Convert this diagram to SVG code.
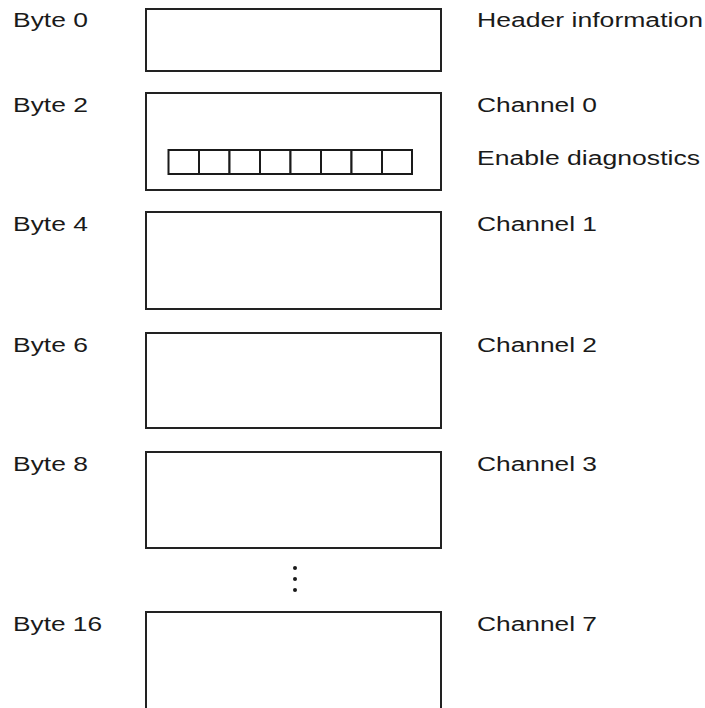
<svg xmlns="http://www.w3.org/2000/svg" width="705" height="708" viewBox="0 0 705 708">
<style>
.box{fill:#fff;stroke:#222;stroke-width:2}
.cell{fill:#fff;stroke:#1a1a1a;stroke-width:2}
text{font-family:"Liberation Sans",Arial,sans-serif;font-size:20px;fill:#1a1a1a}
</style>
<rect width="705" height="708" fill="#fff"/>
<g id="byte0">
<rect class="box" x="146" y="9" width="295" height="62"/>
<text x="13" y="27" textLength="75" lengthAdjust="spacingAndGlyphs">Byte 0</text>
<text x="477" y="27" textLength="226" lengthAdjust="spacingAndGlyphs">Header information</text>
</g>
<g id="byte2">
<rect class="box" x="146" y="93" width="295" height="97"/>
<g id="bits">
<rect class="cell" x="168.5" y="150" width="30.5" height="24"/>
<rect class="cell" x="199" y="150" width="30.5" height="24"/>
<rect class="cell" x="229.5" y="150" width="30.5" height="24"/>
<rect class="cell" x="260" y="150" width="30.5" height="24"/>
<rect class="cell" x="290.5" y="150" width="30.5" height="24"/>
<rect class="cell" x="321" y="150" width="30.5" height="24"/>
<rect class="cell" x="351.5" y="150" width="30.5" height="24"/>
<rect class="cell" x="382" y="150" width="30" height="24"/>
</g>
<text x="13" y="112" textLength="75" lengthAdjust="spacingAndGlyphs">Byte 2</text>
<text x="477" y="112" textLength="120" lengthAdjust="spacingAndGlyphs">Channel 0</text>
<text x="477" y="165" textLength="223" lengthAdjust="spacingAndGlyphs">Enable diagnostics</text>
</g>
<g id="byte4">
<rect class="box" x="146" y="212" width="295" height="97"/>
<text x="13" y="231" textLength="75" lengthAdjust="spacingAndGlyphs">Byte 4</text>
<text x="477" y="231" textLength="120" lengthAdjust="spacingAndGlyphs">Channel 1</text>
</g>
<g id="byte6">
<rect class="box" x="146" y="333" width="295" height="95"/>
<text x="13" y="352" textLength="75" lengthAdjust="spacingAndGlyphs">Byte 6</text>
<text x="477" y="352" textLength="120" lengthAdjust="spacingAndGlyphs">Channel 2</text>
</g>
<g id="byte8">
<rect class="box" x="146" y="452" width="295" height="96"/>
<text x="13" y="471" textLength="75" lengthAdjust="spacingAndGlyphs">Byte 8</text>
<text x="477" y="471" textLength="120" lengthAdjust="spacingAndGlyphs">Channel 3</text>
</g>
<g id="ellipsis" fill="#1a1a1a">
<circle cx="295" cy="568" r="2"/>
<circle cx="295" cy="579" r="2"/>
<circle cx="295" cy="590" r="2"/>
</g>
<g id="byte16">
<rect class="box" x="146" y="612" width="295" height="100"/>
<text x="13" y="631" textLength="89" lengthAdjust="spacingAndGlyphs">Byte 16</text>
<text x="477" y="631" textLength="120" lengthAdjust="spacingAndGlyphs">Channel 7</text>
</g>
<g id="connectors"/>
</svg>
